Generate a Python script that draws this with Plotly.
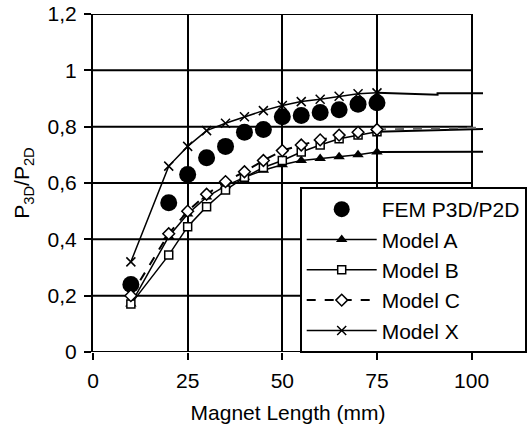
import plotly.graph_objects as go

# ---- data ----
x_pts = [10, 20, 25, 30, 35, 40, 45, 50, 55, 60, 65, 70, 75]
fem = [0.24, 0.53, 0.63, 0.69, 0.73, 0.78, 0.79, 0.835, 0.84, 0.85, 0.86, 0.88, 0.885]
model_a = [0.17, 0.41, 0.49, 0.55, 0.59, 0.62, 0.645, 0.665, 0.68, 0.687, 0.693, 0.70, 0.71]
model_b = [0.17, 0.344, 0.445, 0.516, 0.575, 0.62, 0.655, 0.68, 0.71, 0.735, 0.757, 0.77, 0.782]
model_c = [0.20, 0.42, 0.50, 0.56, 0.605, 0.64, 0.68, 0.715, 0.735, 0.753, 0.77, 0.78, 0.79]
model_x = [0.32, 0.66, 0.73, 0.786, 0.812, 0.835, 0.857, 0.875, 0.889, 0.897, 0.908, 0.917, 0.92]

# continuation of the model curves beyond the last marker
a_ext_x = [75, 103]
a_ext_y = [0.71, 0.711]
b_ext_x = [75, 103]
b_ext_y = [0.782, 0.792]
c_ext_x = [75, 103]
c_ext_y = [0.79, 0.797]
x_ext_x = [75, 91, 91, 103]
x_ext_y = [0.92, 0.913, 0.919, 0.919]

x_tickvals = [0, 25, 50, 75, 100]
x_ticktext = ["0", "25", "50", "75", "100"]
y_tickvals = [0, 0.2, 0.4, 0.6, 0.8, 1.0, 1.2]
y_ticktext = ["0", "0,2", "0,4", "0,6", "0,8", "1", "1,2"]

FONT = "Liberation Sans, Arial, sans-serif"
FS = 21

fig = go.Figure()

# extension lines (no markers)
fig.add_trace(go.Scatter(x=a_ext_x, y=a_ext_y, mode="lines", line=dict(color="black", width=2),
                         showlegend=False, hoverinfo="skip"))
fig.add_trace(go.Scatter(x=b_ext_x, y=b_ext_y, mode="lines", line=dict(color="black", width=2),
                         showlegend=False, hoverinfo="skip"))
fig.add_trace(go.Scatter(x=c_ext_x, y=c_ext_y, mode="lines", line=dict(color="#666666", width=2, dash="dash"),
                         showlegend=False, hoverinfo="skip"))
fig.add_trace(go.Scatter(x=x_ext_x, y=x_ext_y, mode="lines", line=dict(color="black", width=2),
                         showlegend=False, hoverinfo="skip"))

fig.add_trace(go.Scatter(x=x_pts, y=fem, mode="markers", name="FEM P3D/P2D",
                         marker=dict(symbol="circle", size=17, color="black")))
fig.add_trace(go.Scatter(x=x_pts, y=model_a, mode="lines+markers", name="Model A",
                         line=dict(color="black", width=1.5),
                         marker=dict(symbol="triangle-up", size=10, color="black")))
fig.add_trace(go.Scatter(x=x_pts, y=model_b, mode="lines+markers", name="Model B",
                         line=dict(color="black", width=1.5),
                         marker=dict(symbol="square", size=8, color="white",
                                     line=dict(color="black", width=1.5))))
fig.add_trace(go.Scatter(x=x_pts, y=model_c, mode="lines+markers", name="Model C",
                         line=dict(color="black", width=2, dash="dash"),
                         marker=dict(symbol="diamond", size=9, color="white",
                                     line=dict(color="black", width=1.5))))
fig.add_trace(go.Scatter(x=x_pts, y=model_x, mode="lines+markers", name="Model X",
                         line=dict(color="black", width=1.5),
                         marker=dict(symbol="x-thin-open", size=9, color="black",
                                     line=dict(color="black", width=1.5))))

# horizontal grid lines limited to x in [0, 100]
for v in y_tickvals:
    fig.add_shape(type="line", xref="x", yref="y", x0=0, x1=100, y0=v, y1=v,
                  line=dict(color="black", width=2), layer="below")

fig.update_layout(
    width=532, height=429,
    margin=dict(l=93, r=49, t=14, b=77, autoexpand=False),
    paper_bgcolor="white", plot_bgcolor="white",
    font=dict(family=FONT, size=FS, color="black"),
    showlegend=True,
    legend=dict(x=0.53, y=0.488, xanchor="left", yanchor="top",
                bgcolor="white", bordercolor="black", borderwidth=2,
                font=dict(family=FONT, size=FS, color="black"),
                itemwidth=70, tracegroupgap=0),
    xaxis=dict(range=[0, 103], tickvals=x_tickvals, ticktext=x_ticktext,
               automargin=False,
               showgrid=True, gridcolor="black", gridwidth=2,
               zeroline=False, showline=False,
               ticks="outside", ticklen=7, tickwidth=2, tickcolor="black",
               ticklabelstandoff=3,
               title=dict(text="Magnet Length (mm)", standoff=14,
                          font=dict(family=FONT, size=FS))),
    yaxis=dict(range=[0, 1.2], tickvals=y_tickvals, ticktext=y_ticktext,
               automargin=False,
               showgrid=False, zeroline=False,
               showline=True, linecolor="black", linewidth=2,
               ticks="outside", ticklen=7, tickwidth=2, tickcolor="black",
               ticklabelstandoff=3,
               title=dict(text="P<sub>3D</sub>/P<sub>2D</sub>", standoff=12,
                          font=dict(family=FONT, size=FS))),
)

fig.write_html("out.html", config={"displayModeBar": False},
               post_script="document.body.style.margin='0';document.body.style.overflow='hidden';")
